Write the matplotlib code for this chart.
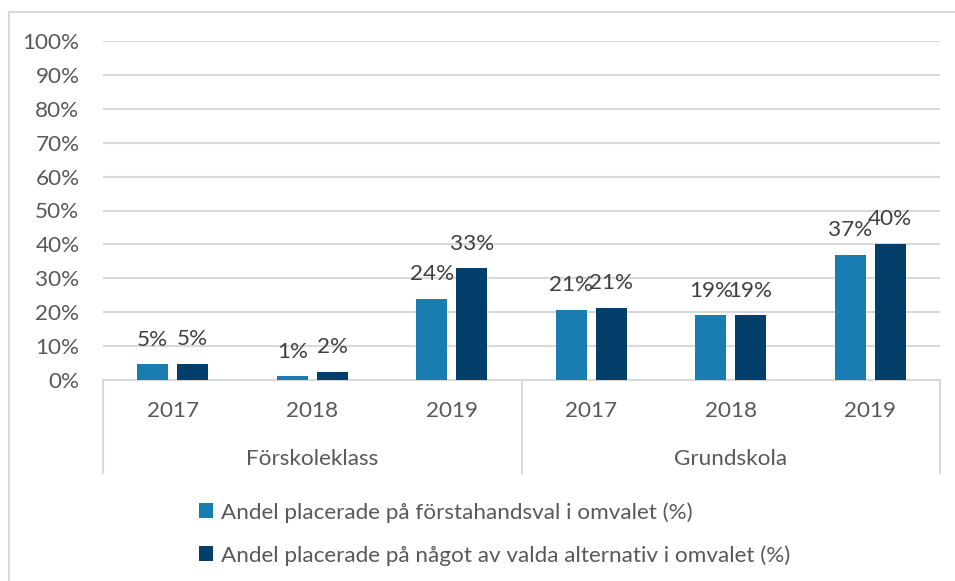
import matplotlib.pyplot as plt
import numpy as np
from matplotlib.lines import Line2D

plt.rcParams['font.family'] = ['Lato', 'DejaVu Sans']

years = ['2017', '2018', '2019']
groups = ['Förskoleklass', 'Grundskola']
first_choice = [4.6, 1.1, 24.0, 20.6, 19.1, 36.8]
any_choice = [4.7, 2.4, 32.9, 21.2, 19.1, 40.1]
series_names = ['Andel placerade på förstahandsval i omvalet (%)',
                'Andel placerade på något av valda alternativ i omvalet (%)']
light = '#1A7DB1'
dark = '#023F6A'
grey_text = '#595959'
grid_col = '#D9D9D9'
fs = 16.2

W, H = 955, 581
fig = plt.figure(figsize=(W / 100, H / 100), dpi=100)
ax = fig.add_axes([103 / W, (H - 380) / H, (940 - 103) / W, (380 - 41) / H])

x = np.arange(len(first_choice))
bw = 0.222
off = 0.143
b1 = ax.bar(x - off, first_choice, bw, color=light, label=series_names[0], zorder=3)
b2 = ax.bar(x + off, any_choice, bw, color=dark, label=series_names[1], zorder=3)

for bars, vals in ((b1, first_choice), (b2, any_choice)):
    for r, v in zip(bars, vals):
        ax.annotate(f'{round(v):.0f}%', (r.get_x() + r.get_width() / 2, v),
                    xytext=(0, 13.5), textcoords='offset points', ha='center', va='baseline',
                    fontsize=fs, color='#404040')

ax.set_xlim(-0.5, len(x) - 0.5)
ax.set_ylim(0, 100)
ax.set_yticks(np.arange(0, 101, 10))
ax.set_yticklabels([f'{t}%' for t in range(0, 101, 10)])
ax.tick_params(axis='y', length=0, pad=17, labelsize=fs, labelcolor=grey_text)
ax.set_xticks([])
ax.grid(axis='y', color=grid_col, linewidth=1.5, zorder=0)
for s in ['top', 'right', 'left']:
    ax.spines[s].set_visible(False)
ax.spines['bottom'].set_color(grid_col)
ax.spines['bottom'].set_linewidth(1.5)

# multi-level category axis
trans = ax.get_xaxis_transform()
for i, xi in enumerate(x):
    ax.text(xi, -0.092, years[i % 3], transform=trans, ha='center', va='center',
            fontsize=fs, color=grey_text)
for g, name in enumerate(groups):
    ax.text(g * 3 + 1, -0.232, name, transform=trans, ha='center', va='center',
            fontsize=fs, color=grey_text)
for xs in (-0.5, 2.5, 5.5):
    ax.plot([xs, xs], [0, -0.275], transform=trans, color=grid_col, lw=1.5, clip_on=False)

leg = fig.legend(handles=[b1, b2], loc='upper left', bbox_to_anchor=(199 / W, 1 - 502 / H),
                 frameon=False, fontsize=fs, handlelength=0.62, handleheight=0.62,
                 handletextpad=0.35, labelspacing=1.0, borderaxespad=0, borderpad=0)
for t in leg.get_texts():
    t.set_color(grey_text)

# chart border
fig.add_artist(Line2D([9 / W, 1], [1 - 12 / H] * 2, color=grid_col, lw=1.5))
fig.add_artist(Line2D([9 / W] * 2, [0, 1 - 12 / H], color=grid_col, lw=1.5))

fig.savefig('out.png', dpi=100)
